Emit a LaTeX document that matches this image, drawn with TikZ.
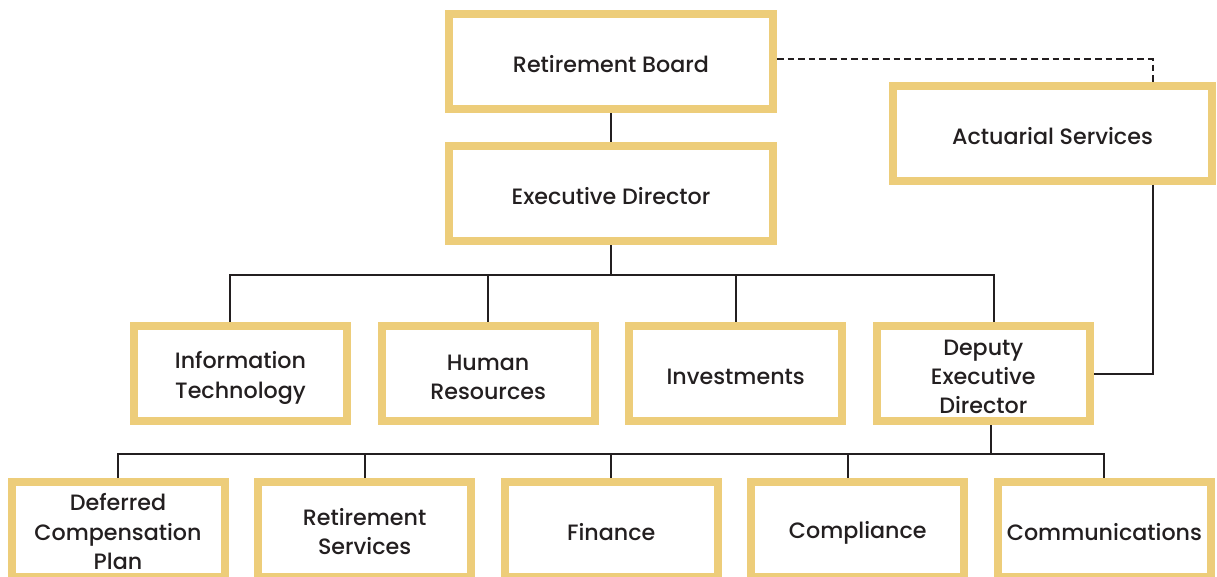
\documentclass[tikz,border=0pt]{standalone}
\usepackage{fontspec}
\setmainfont{Poppins}[UprightFont=* Medium]
\usepackage{tikz}
\usetikzlibrary{positioning}

\definecolor{boxgold}{RGB}{237,205,122}
\definecolor{inkdark}{RGB}{35,31,32}
\newcommand{\topstrut}{\rule{0pt}{12.5pt}}
\newcommand{\botstrut}{\rule[-1.7pt]{0pt}{0pt}}

\begin{document}
\begin{tikzpicture}[
        x=0.5pt, y=-0.5pt,
        unit/.style={
            rectangle,
            draw=boxgold,
            fill=white,
            line width=4pt,
            minimum width=106.5pt,
            minimum height=47.5pt,
            inner sep=2pt,
            align=center,
            text=inkdark,
            font=\fontsize{11.1}{14.6}\selectfont,
            execute at begin node=\topstrut,
            execute at end node=\botstrut
        },
        topunit/.style={
            unit,
            minimum width=162pt
        },
        link/.style={
            draw=inkdark,
            line width=1pt
        },
        dotlink/.style={
            link,
            dash pattern=on 3.3pt off 2pt
        }
    ]
    \useasboundingbox (0,0) rectangle (1217,577);

    \node[topunit] (board) at (611,62) {Retirement Board};
    \node[topunit, below=14.3pt of board] (exec) {Executive Director};
    \node[topunit, minimum width=159.5pt] (actuarial) at (1052.5,133.5) {Actuarial Services};

    \node[unit] (infotech) at (240.5,374) {\topstrut Information\\Technology};
    \node[unit, right=13.3pt of infotech] (human) {\topstrut Human\\Resources};
    \node[unit, right=13.3pt of human] (invest) {Investments};
    \node[unit, right=13.3pt of invest] (deputy) {\topstrut Deputy\\Executive\\Director};

    \node[unit] (deferred) at (118,529.2) {\topstrut Deferred\\Compensation\\Plan};
    \node[unit, right=12.8pt of deferred] (retserv) {\topstrut Retirement\\Services};
    \node[unit, right=12.8pt of retserv] (finance) {Finance};
    \node[unit, right=12.8pt of finance] (compliance) {Compliance};
    \node[unit, right=12.8pt of compliance] (comms) {Communications};

    % board and actuary
    \draw[link] (board) -- (exec);
    \draw[dotlink] ([yshift=1.5pt]board.east) -| ([xshift=50.25pt]actuarial.north);
    \draw[link] ([xshift=50.25pt]actuarial.south) |- (deputy.east);

    % second level
    \draw[link] (exec.south) -- ++(0,29.7) coordinate (hubtwo);
    \draw[link] (hubtwo) -| ([xshift=-5.25pt]infotech.north);
    \draw[link] (hubtwo) -| (human.north);
    \draw[link] (hubtwo) -| (invest.north);
    \draw[link] (hubtwo) -| ([xshift=5.5pt]deputy.north);

    % third level
    \draw[link] ([xshift=4pt]deputy.south) -- ++(0,28.5) coordinate (hubthree);
    \draw[link] (hubthree) -| (deferred.north);
    \draw[link] (hubthree) -| (retserv.north);
    \draw[link] (hubthree) -| (finance.north);
    \draw[link] (hubthree) -| ([xshift=-4.75pt]compliance.north);
    \draw[link] (hubthree) -| (comms.north);
\end{tikzpicture}
\end{document}
